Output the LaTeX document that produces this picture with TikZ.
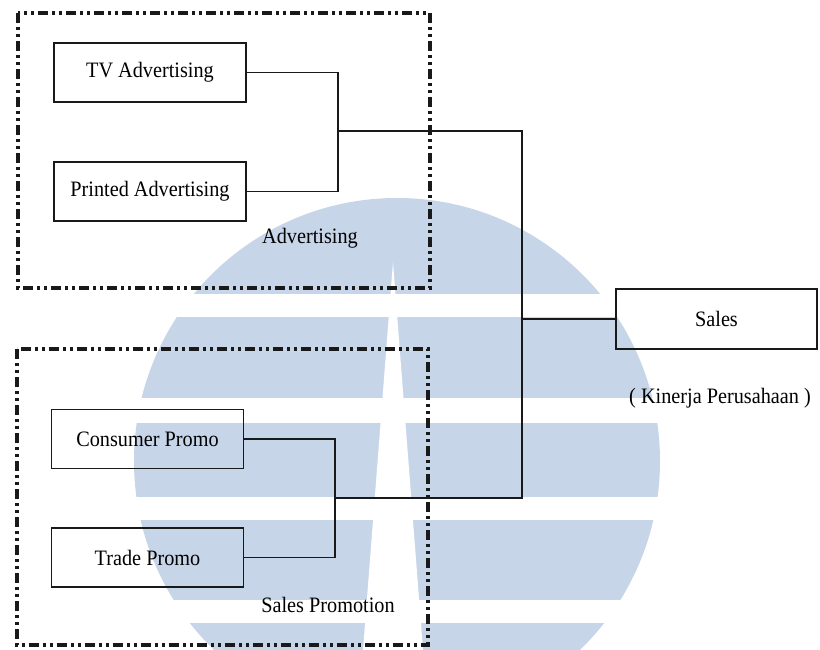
\documentclass[tikz,border=0pt]{standalone}
\usepackage{fontspec}
\setmainfont{Liberation Serif}[FakeStretch=0.92]
\definecolor{wmblue}{RGB}{199,213,233}
\begin{document}
\begin{tikzpicture}[x=1pt,y=-1pt,
  txt/.style={font=\fontsize{22pt}{26pt}\selectfont, text=black, inner sep=0pt},
  itembox/.style={draw=black!90, line width=1.9pt, minimum width=192pt, minimum height=59pt, inner sep=0pt, txt},
  groupbox/.style={draw=black!90, line width=3.2pt, dash pattern=on 10pt off 4pt on 3pt off 4pt on 3pt off 4pt},
  link/.style={draw=black!90, line width=1.7pt}]
\useasboundingbox (0,0) rectangle (820,650);
\fill[white] (0,0) rectangle (820,650);

% background emblem: banded disc with a narrow vertical wedge
\fill[wmblue] (397,461) circle [radius=263pt];
\foreach \ya/\yb in {294/317, 398/423, 497/520, 600/623}
  \fill[white] (120,\ya) rectangle (680,\yb);
\fill[white] (393,262) -- (363,650) -- (423,650) -- cycle;

% group frames
\draw[groupbox] (18,13) rectangle (430,288);
\draw[groupbox] (17,349) rectangle (428,645);

% items
\node[itembox] (tv) at (150,72.5) {TV Advertising};
\node[itembox] (printed) at (150,191.5) {Printed Advertising};
\node[itembox] (consumer) at (147.5,439) {Consumer Promo};
\node[itembox] (trade) at (147.5,557.5) {Trade Promo};
\node[itembox, minimum width=201pt, minimum height=60pt] (sales) at (716.5,319) {Sales};

% labels
\node[txt] (advlabel) at (310,238) {Advertising};
\node[txt] (splabel) at (328,605) {Sales Promotion};
\node[txt] (kinerja) at (720,398) {( Kinerja Perusahaan )};

% junction points
\coordinate (advj) at (338,131);
\coordinate (spj) at (335,498);
\coordinate (bustop) at (522,131);
\coordinate (busbot) at (522,498);

% connectors
\draw[link] (tv.east) -| (advj) |- (printed.east);
\draw[link] (consumer.east) -| (spj) |- (trade.east);
\draw[link] (advj) -- (bustop) -- (busbot) -- (spj);
\draw[link] (bustop |- sales.west) -- (sales.west);
\end{tikzpicture}
\end{document}
